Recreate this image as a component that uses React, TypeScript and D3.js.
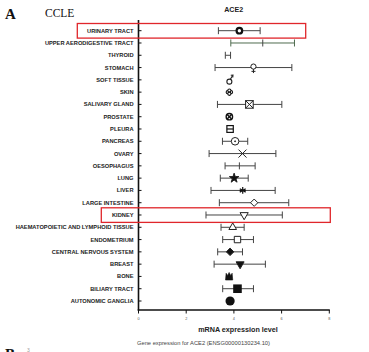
import React from "react";
import * as d3 from "d3";

const categories = [
  "URINARY TRACT", "UPPER AERODIGESTIVE TRACT", "THYROID", "STOMACH", "SOFT TISSUE", "SKIN",
  "SALIVARY GLAND", "PROSTATE", "PLEURA", "PANCREAS", "OVARY", "OESOPHAGUS", "LUNG", "LIVER",
  "LARGE INTESTINE", "KIDNEY", "HAEMATOPOIETIC AND LYMPHOID TISSUE", "ENDOMETRIUM",
  "CENTRAL NERVOUS SYSTEM", "BREAST", "BONE", "BILIARY TRACT", "AUTONOMIC GANGLIA",
];
const means = [4.23, 5.21, 3.75, 4.82, 3.81, 3.81, 4.65, 3.81, 3.84, 4.05, 4.36, 4.23, 4.01, 4.37, 4.85, 4.43, 3.95, 4.15, 3.84, 4.26, 3.8, 4.15, 3.84];
const lows = [3.35, 3.87, 3.64, 3.21, 3.81, 3.81, 3.31, 3.81, 3.84, 3.52, 2.96, 3.63, 3.43, 3.04, 3.39, 2.83, 3.46, 3.53, 3.32, 3.17, 3.8, 3.53, 3.84];
const highs = [5.1, 6.54, 3.86, 6.43, 3.81, 3.81, 6.01, 3.81, 3.84, 4.58, 5.76, 4.89, 4.6, 5.73, 6.3, 6.03, 4.43, 4.82, 4.36, 5.32, 3.8, 4.82, 3.84];
const markers = [
  "ringBold", "tick", "none", "female", "male", "flower", "squareX", "circleX", "squareLine",
  "circleDot", "x", "tick", "star", "asterisk", "diamondOpen", "triDownOpen", "triUpOpen",
  "squareOpen", "diamondFilled", "triDownFilled", "crown", "squareFilled", "circleFilled",
];
const xTicks = [0, 2, 4, 6, 8];
const highlighted = ["URINARY TRACT", "KIDNEY"];

const W = 369, H = 352;
const x = d3.scaleLinear().domain([0, 8]).range([138.5, 329.3]);
const y = d3.scalePoint<string>().domain(categories).range([30.7, 301]);

const INK = "#222";

function Marker({ type, cx, cy }: { type: string; cx: number; cy: number }) {
  const sym = (t: d3.SymbolType, size: number, fill: string, rot = 0) => (
    <path
      d={d3.symbol().type(t).size(size)() as string}
      transform={`translate(${cx},${cy}) rotate(${rot})`}
      fill={fill}
      stroke={INK}
      strokeWidth={1}
    />
  );
  switch (type) {
    case "ringBold":
      return <circle cx={cx} cy={cy} r={2.8} fill="#fff" stroke="#111" strokeWidth={2.2} />;
    case "tick":
      return <line x1={cx} x2={cx} y1={cy - 3.5} y2={cy + 3.5} stroke="#444" strokeWidth={1} />;
    case "none":
      return null;
    case "female":
      return (
        <g stroke={INK} fill="#fff" strokeWidth={1}>
          <circle cx={cx} cy={cy - 1} r={2.6} />
          <line x1={cx} x2={cx} y1={cy + 1.6} y2={cy + 5.5} />
          <line x1={cx - 2} x2={cx + 2} y1={cy + 3.8} y2={cy + 3.8} />
        </g>
      );
    case "male":
      return (
        <g stroke={INK} fill="#fff" strokeWidth={1.1}>
          <circle cx={cx} cy={cy + 1.8} r={2.5} />
          <line x1={cx + 1} x2={cx + 3.2} y1={cy - 0.6} y2={cy - 4.2} />
          <path d={`M${cx + 1.4},${cy - 4.6} L${cx + 3.6},${cy - 4.8} L${cx + 3.4},${cy - 2.4}`} fill="none" />
        </g>
      );
    case "flower":
      return (
        <g stroke="#111" fill="#fff" strokeWidth={1.1}>
          <circle cx={cx - 1.6} cy={cy} r={1.6} />
          <circle cx={cx + 1.6} cy={cy} r={1.6} />
          <circle cx={cx} cy={cy - 1.6} r={1.6} />
          <circle cx={cx} cy={cy + 1.6} r={1.6} />
        </g>
      );
    case "squareX":
      return (
        <g stroke={INK} fill="#fff" strokeWidth={1}>
          <rect x={cx - 3.8} y={cy - 3.8} width={7.6} height={7.6} />
          <line x1={cx - 3.8} y1={cy - 3.8} x2={cx + 3.8} y2={cy + 3.8} />
          <line x1={cx - 3.8} y1={cy + 3.8} x2={cx + 3.8} y2={cy - 3.8} />
        </g>
      );
    case "circleX":
      return (
        <g stroke="#111" fill="#fff" strokeWidth={1.4}>
          <circle cx={cx} cy={cy} r={3.2} />
          <line x1={cx - 2.2} y1={cy - 2.2} x2={cx + 2.2} y2={cy + 2.2} />
          <line x1={cx - 2.2} y1={cy + 2.2} x2={cx + 2.2} y2={cy - 2.2} />
        </g>
      );
    case "squareLine":
      return (
        <g stroke="#111" fill="#fff" strokeWidth={1.2}>
          <rect x={cx - 3.2} y={cy - 3.4} width={6.4} height={6.8} />
          <line x1={cx - 3.2} x2={cx + 3.2} y1={cy} y2={cy} />
        </g>
      );
    case "circleDot":
      return (
        <g stroke={INK} fill="#fff" strokeWidth={1}>
          <circle cx={cx} cy={cy} r={3.8} />
          <circle cx={cx} cy={cy} r={0.5} fill={INK} />
        </g>
      );
    case "x":
      return (
        <g stroke={INK} strokeWidth={1}>
          <line x1={cx - 4} y1={cy - 4} x2={cx + 4} y2={cy + 4} />
          <line x1={cx - 4} y1={cy + 4} x2={cx + 4} y2={cy - 4} />
        </g>
      );
    case "star":
      return sym(d3.symbolStar, 28, "#111");
    case "asterisk":
      return (
        <g stroke="#111" strokeWidth={1.2}>
          {[0, 60, 120].map((a) => {
            const r = 3.4, rad = (a * Math.PI) / 180;
            return (
              <line key={a} x1={cx - r * Math.sin(rad)} y1={cy - r * Math.cos(rad)} x2={cx + r * Math.sin(rad)} y2={cy + r * Math.cos(rad)} />
            );
          })}
          <line x1={cx - 3} x2={cx + 3} y1={cy} y2={cy} />
        </g>
      );
    case "diamondOpen":
      return sym(d3.symbolDiamond2, 34, "#fff");
    case "triDownOpen":
      return sym(d3.symbolTriangle2, 48, "#fff", 180);
    case "triUpOpen":
      return sym(d3.symbolTriangle2, 42, "#fff");
    case "squareOpen":
      return sym(d3.symbolSquare2, 52, "#fff");
    case "diamondFilled":
      return sym(d3.symbolDiamond2, 36, "#111");
    case "triDownFilled":
      return sym(d3.symbolTriangle2, 46, "#111", 180);
    case "crown":
      return (
        <path
          d={`M${cx - 3.6},${cy + 3.6} L${cx - 3},${cy - 3.2} L${cx - 1.5},${cy - 1} L${cx},${cy - 4} L${cx + 1.5},${cy - 1} L${cx + 3},${cy - 3.2} L${cx + 3.6},${cy + 3.6} Z`}
          fill="#111"
          stroke="#111"
          strokeWidth={0.6}
        />
      );
    case "squareFilled":
      return <rect x={cx - 4.3} y={cy - 4.3} width={8.6} height={8.6} fill="#111" />;
    case "circleFilled":
      return <circle cx={cx} cy={cy} r={4.6} fill="#111" />;
    default:
      return null;
  }
}

export default function App() {
  const sans = "'Liberation Sans', Arial, sans-serif";
  const serif = "'Liberation Serif', 'Times New Roman', serif";
  return (
    <svg width={W} height={H} style={{ position: "absolute", left: 0, top: 0, background: "#fff" }}>
      <rect width={W} height={H} fill="#fff" />
      <text x={5} y={19} fontFamily={serif} fontWeight="bold" fontSize={15} fill="#111">A</text>
      <text x={45} y={17} fontFamily={serif} fontSize={11.5} fill="#111">CCLE</text>
      <text x={233.7} y={12} fontFamily={sans} fontWeight="bold" fontSize={7.1} textAnchor="middle" fill="#222">ACE2</text>

      {/* error bars and markers */}
      {categories.map((c, i) => {
        const cy = y(c) as number;
        const lo = x(lows[i]), hi = x(highs[i]), m = x(means[i]);
        const color = i === 1 ? "#4f6b4f" : "#444";
        const hasBar = highs[i] - lows[i] > 0.01;
        return (
          <g key={c}>
            {hasBar && (
              <g stroke={color} strokeWidth={1}>
                <line x1={lo} x2={hi} y1={cy} y2={cy} />
                <line x1={lo} x2={lo} y1={cy - 3.5} y2={cy + 3.5} />
                <line x1={hi} x2={hi} y1={cy - 3.5} y2={cy + 3.5} />
              </g>
            )}
            <Marker type={markers[i]} cx={m} cy={cy} />
          </g>
        );
      })}

      {/* y axis */}
      <line x1={x(0)} x2={x(0)} y1={20} y2={310.5} stroke="#111" strokeWidth={1.6} />
      {categories.map((c) => (
        <g key={"t" + c}>
          <line x1={x(0)} x2={x(0) + 3} y1={y(c) as number} y2={y(c) as number} stroke="#111" strokeWidth={1} />
          <text x={133.5} y={(y(c) as number) + 2} fontFamily={sans} fontWeight="bold" fontSize={5.7} textAnchor="end" fill="#222">{c}</text>
        </g>
      ))}

      {/* x axis */}
      <line x1={x(0) - 0.8} x2={x(8) + 0.5} y1={310} y2={310} stroke="#111" strokeWidth={1.6} />
      {xTicks.map((t) => (
        <g key={"x" + t}>
          <line x1={x(t)} x2={x(t)} y1={310} y2={313.5} stroke="#111" strokeWidth={1} />
          <text x={x(t)} y={319.5} fontFamily={sans} fontSize={3.8} textAnchor="middle" fill="#555">{t}</text>
        </g>
      ))}
      <text x={238} y={332} fontFamily={sans} fontWeight="bold" fontSize={7.2} textAnchor="middle" fill="#222">mRNA expression level</text>
      <text x={203.5} y={345} fontFamily={sans} fontSize={5.75} textAnchor="middle" fill="#444">Gene expression for ACE2 (ENSG00000130234.10)</text>

      {/* highlight boxes */}
      {highlighted.map((c) => {
        const cy = y(c) as number;
        const left = c === "KIDNEY" ? 101.3 : 77.3;
        const right = c === "KIDNEY" ? 330.3 : 305.7;
        return (
          <rect key={"h" + c} x={left} y={cy - 7.2} width={right - left} height={14.6} fill="none" stroke="#e0262b" strokeWidth={1.3} />
        );
      })}

      <text x={5} y={359} fontFamily={serif} fontWeight="bold" fontSize={15} fill="#111">B</text>
      <text x={27} y={352} fontFamily={sans} fontSize={5} fill="#999">3</text>
    </svg>
  );
}
